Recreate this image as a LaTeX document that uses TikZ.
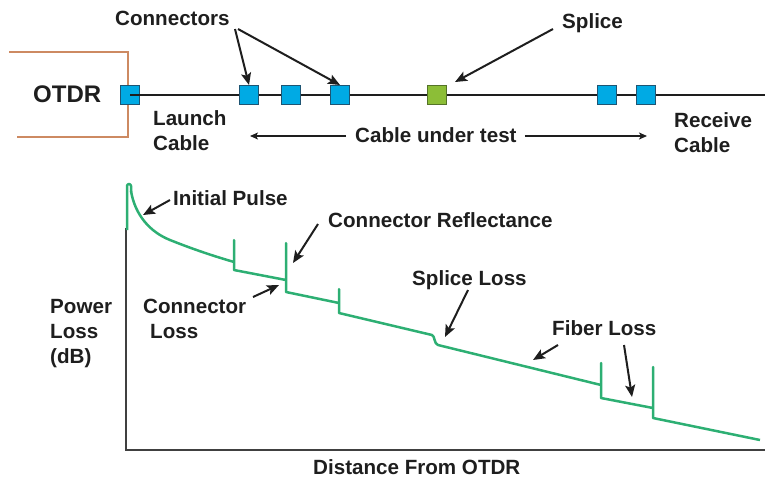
\documentclass[tikz,border=0pt]{standalone}
\usepackage{fontspec}
\setmainfont{Liberation Sans}
\usetikzlibrary{arrows.meta}
\definecolor{cyanbox}{RGB}{0,170,228}
\definecolor{cyanedge}{RGB}{30,85,115}
\definecolor{splicegreen}{RGB}{140,190,55}
\definecolor{spliceedge}{RGB}{85,115,40}
\definecolor{trace}{RGB}{45,175,115}
\definecolor{otdrorange}{RGB}{205,138,98}
\definecolor{ink}{RGB}{30,30,30}
\begin{document}
\begin{tikzpicture}[x=1pt,y=-1pt,
  lbl/.style={font=\fontsize{20.6}{25}\selectfont\bfseries, text=ink, inner sep=0pt, anchor=base west, align=left},
  bigl/.style={font=\fontsize{24}{28}\selectfont\bfseries, text=ink, inner sep=0pt, anchor=base west},
  connbox/.style={draw=cyanedge, fill=cyanbox, minimum size=19pt, inner sep=0pt, line width=1pt},
  splicebox/.style={draw=spliceedge, fill=splicegreen, minimum size=19pt, inner sep=0pt, line width=1pt},
  pointer/.style={-{Stealth[length=12pt,width=10pt,inset=2.5pt]}, line width=2pt, draw=ink},
  span/.style={-{Stealth[length=8pt,width=7pt,inset=2pt]}, line width=1.6pt, draw=ink},
  fiber/.style={line width=1.9pt, draw=ink},
  axis/.style={line width=1.9pt, draw=ink!85},
  tracestyle/.style={line width=2.5pt, draw=trace, line join=round}]
\useasboundingbox (0,0) rectangle (765,480);

% OTDR box
\draw[line width=2pt, otdrorange] (9,52) -- (128,52) -- (128,137) -- (17,137);
\node[bigl] (otdr) at (33,102) {OTDR};

% fiber line and components
\coordinate (fibend) at (765,95);
\node[connbox] (c0) at (130,95) {};
\draw[fiber] (c0.center) -- (fibend);
\node[connbox] (c1) at (249,95) {};
\node[connbox] (c2) at (291,95) {};
\node[connbox] (c3) at (340,95) {};
\node[splicebox] (sp) at (437,95) {};
\node[connbox] (c4) at (607,95) {};
\node[connbox] (c5) at (646,95) {};

% top labels
\node[lbl] (lconn) at (115,25) {Connectors};
\node[lbl] (lsplice) at (562,28) {Splice};
\node[lbl] (llaunch) at (153,150) {Launch\\Cable};
\node[lbl] (lreceive) at (674,152) {Receive\\Cable};
\node[lbl] (lcut) at (355,142) {Cable under test};

\coordinate (a1s) at (235,29);
\coordinate (a2s) at (238,29);
\draw[pointer] (a1s) -- (c1.north);
\draw[pointer] (a2s) -- (c3.north);
\coordinate (a3s) at (553,29);
\coordinate (a3e) at (455,82);
\draw[pointer] (a3s) -- (a3e);

\coordinate (cutl) at (250,136);
\coordinate (cutr) at (647,136);
\draw[span] ([xshift=-9pt,yshift=6pt]lcut.base west) -- (cutl);
\draw[span] ([xshift=8pt,yshift=6pt]lcut.base east) -- (cutr);

% axes
\coordinate (yaxtop) at (126,228);
\coordinate (origin) at (126,450);
\coordinate (xaxend) at (765,450);
\draw[axis] (yaxtop) -- (origin) -- (xaxend);

% trace
\draw[tracestyle, rounded corners=2pt] (127,230) -- (127,184) -- (131,184) -- (131,192);
\draw[tracestyle] (131,191)
  .. controls (135,215) and (150,232) .. (170,240)
  .. controls (190,248) and (210,255) .. (234,262)
  -- (234,240) -- (234,270) -- (286,280)
  -- (286,243) -- (286,292) -- (339,303)
  -- (339,289) -- (339,313) -- (432,335)
  .. controls (435,336) and (434,344) .. (438,345)
  -- (601,385) -- (601,363) -- (601,398) -- (653,408)
  -- (653,367) -- (653,418) -- (760,440);

% graph labels
\node[lbl] (lpulse) at (173,205) {Initial Pulse};
\node[lbl] (lrefl) at (328,227) {Connector Reflectance};
\node[lbl] (lcloss) at (143,338) {Connector\\\hspace*{7pt}Loss};
\node[lbl] (lsloss) at (412,285) {Splice Loss};
\node[lbl] (lfloss) at (552,335) {Fiber Loss};
\node[lbl] (lpower) at (50,363) {Power\\Loss\\(dB)};
\node[lbl] (ldist) at (313,474) {Distance From OTDR};

\coordinate (spulse) at (170,200);
\coordinate (srefl) at (318,224);
\coordinate (scloss) at (253,297);
\coordinate (ssloss) at (468,290);
\coordinate (sfib1) at (558,345);
\coordinate (sfib2) at (624,345);
\coordinate (tpulse) at (143,215);
\coordinate (trefl) at (293,263);
\coordinate (tcloss) at (279,285);
\coordinate (tsloss) at (445,337);
\coordinate (tfib1) at (533,360);
\coordinate (tfib2) at (632,397);
\draw[pointer] (spulse) -- (tpulse);
\draw[pointer] (srefl) -- (trefl);
\draw[pointer] (scloss) -- (tcloss);
\draw[pointer] (ssloss) -- (tsloss);
\draw[pointer] (sfib1) -- (tfib1);
\draw[pointer] (sfib2) -- (tfib2);
\end{tikzpicture}
\end{document}
